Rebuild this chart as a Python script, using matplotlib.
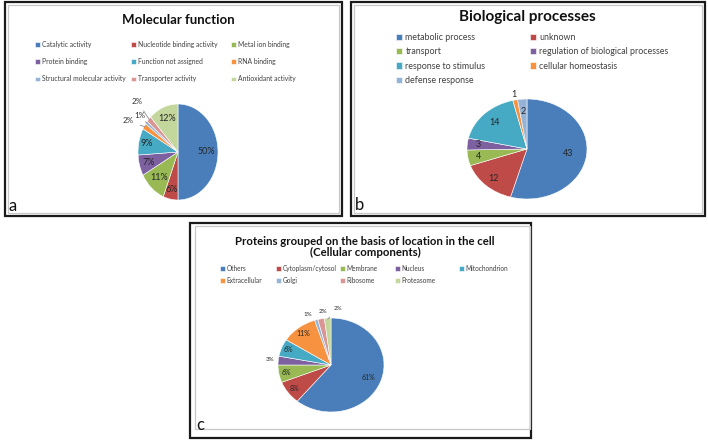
import numpy as np
import matplotlib
matplotlib.use("Agg")
import matplotlib.pyplot as plt
from matplotlib.patches import Rectangle

plt.rcParams["font.family"] = ["Lato", "DejaVu Sans"]

# == data
mf_labels = ["Catalytic activity", "Nucleotide binding activity", "Metal ion binding",
             "Protein binding", "Function not assigned", "RNA binding",
             "Structural molecular activity", "Transporter activity", "Antioxidant activity"]
mf_values = [50, 6, 11, 7, 9, 2, 1, 2, 12]

bp_labels = ["metabolic process", "unknown", "transport",
             "regulation of biological processes", "response to stimulus",
             "cellular homeostasis", "defense response"]
bp_values = [43, 12, 4, 3, 14, 1, 2]

cc_labels = ["Others", "Cytoplasm/cytosol", "Membrane", "Nucleus", "Mitochondrion",
             "Extracellular", "Golgi", "Ribosome", "Proteasome"]
cc_values = [61, 8, 6, 3, 6, 11, 1, 2, 2]

colors = ["#4A7EBB", "#BE4B48", "#98B954", "#7D60A0", "#46AAC5",
          "#F69240", "#95B3D7", "#D99694", "#C3D69B"]

W, H = 708, 441
fig = plt.figure(figsize=(W / 100, H / 100), dpi=100)
fig.patch.set_facecolor("white")


def fx(x):
    return x / W


def fy(y):
    return 1 - y / H


def box(l, t, r, b, inset):
    # outer black frame + light grey chart-area frame
    fig.add_artist(Rectangle((fx(l), fy(b)), fx(r - l), (b - t) / H, transform=fig.transFigure,
                             fill=False, edgecolor="#1a1a1a", linewidth=1.6))
    il, it, ir, ib = inset
    fig.add_artist(Rectangle((fx(l + il), fy(b - ib)), fx(r - l - il - ir), (b - t - it - ib) / H,
                             transform=fig.transFigure, fill=False, edgecolor="#c8c8c8", linewidth=0.9))


def pie_axes(l, t, r, b, values, texts, dists, fsize, nudge=None, leaders=(), small=None):
    # pie squeezed into the axes box (ellipse like the excel export)
    ax = fig.add_axes([fx(l), fy(b), fx(r - l), (b - t) / H])
    wedges, _ = ax.pie(values, colors=colors[:len(values)], startangle=90, counterclock=False,
                       wedgeprops=dict(edgecolor="white", linewidth=0.4))
    ax.set_aspect("auto")
    ax.set_xlim(-1, 1)
    ax.set_ylim(-1, 1)
    ax.axis("off")
    if nudge is None:
        nudge = [0] * len(values)
    for i, w in enumerate(wedges):
        mid = np.deg2rad((w.theta1 + w.theta2) / 2)
        ang = mid + np.deg2rad(nudge[i])
        d = dists[i]
        pos = (d * np.cos(ang), d * np.sin(ang))
        fs = small if (small and d > 1) else fsize
        if i in leaders:
            ax.annotate(texts[i], xy=(0.98 * np.cos(mid), 0.98 * np.sin(mid)), xytext=pos,
                        ha="center", va="center", fontsize=fs, color="#333333",
                        annotation_clip=False,
                        arrowprops=dict(arrowstyle="-", color="#8c8c8c", lw=0.6,
                                        shrinkA=3, shrinkB=0))
        else:
            ax.text(pos[0], pos[1], texts[i], ha="center", va="center",
                    fontsize=fs, color="#262626", clip_on=False)
    return wedges


def legend(wedges, labels, xs, y, fsize, lsp):
    # excel fills the legend row by row, one legend per column at fixed x
    ncol = len(xs)
    for c in range(ncol):
        idx = list(range(c, len(labels), ncol))
        fig.legend([wedges[i] for i in idx], [labels[i] for i in idx],
                   loc="upper left", bbox_to_anchor=(fx(xs[c]), fy(y)), frameon=False,
                   fontsize=fsize, handlelength=0.7, handleheight=0.7, handletextpad=0.35,
                   labelspacing=lsp, borderpad=0, borderaxespad=0, labelcolor="#404040")


# == panel a
box(5, 2, 342, 216, (3, 3, 3, 3))
fig.text(fx(178), fy(20), "Molecular function", ha="center", va="center",
         fontsize=9.5, fontweight="bold", color="#111111")
wa = pie_axes(138, 104, 218, 200, mf_values, ["%d%%" % v for v in mf_values],
              [0.7, 0.8, 0.72, 0.77, 0.8, 1.41, 1.22, 1.47, 0.75], 6.5,
              nudge=[0, 0, 0, 0, 0, 5, -1, -3, 0], leaders=(5, 6, 7), small=5.8)
legend(wa, mf_labels, [35, 131, 231], 41, 4.9, 1.5)
fig.text(fx(13), fy(206), "a", ha="center", va="center", fontsize=12, color="#111111")

# == panel b
box(351, 2, 705, 216, (3, 3, 3, 3))
fig.text(fx(527), fy(17), "Biological processes", ha="center", va="center",
         fontsize=11, fontweight="bold", color="#111111")
wb = pie_axes(467, 99, 587, 199, bp_values, [str(v) for v in bp_values],
              [0.7, 0.82, 0.82, 0.82, 0.75, 1.12, 0.75], 6.5)
legend(wb, bp_labels, [396, 530], 33, 6.4, 0.6)
fig.text(fx(359), fy(205), "b", ha="center", va="center", fontsize=12, color="#111111")

# == panel c
box(190, 223, 531, 438, (5, 3, 1, 9))
fig.text(fx(365), fy(247), "Proteins grouped on the basis of location in the cell\n(Cellular components)",
         ha="center", va="center", fontsize=8.2, fontweight="bold", color="#111111",
         linespacing=1.1)
wc = pie_axes(278, 318, 384, 412, cc_values, ["%d%%" % v for v in cc_values],
              [0.76, 0.85, 0.86, 1.15, 0.87, 0.85, 1.15, 1.14, 1.2], 5,
              nudge=[0, 0, 0, 0, 0, 0, 6, -3, -10], leaders=(8,), small=4.5)
legend(wc, cc_labels, [220, 276, 340, 395, 459], 265, 4.7, 0.75)
fig.text(fx(200), fy(425), "c", ha="center", va="center", fontsize=12, color="#111111")

fig.savefig("out.png", dpi=100)
